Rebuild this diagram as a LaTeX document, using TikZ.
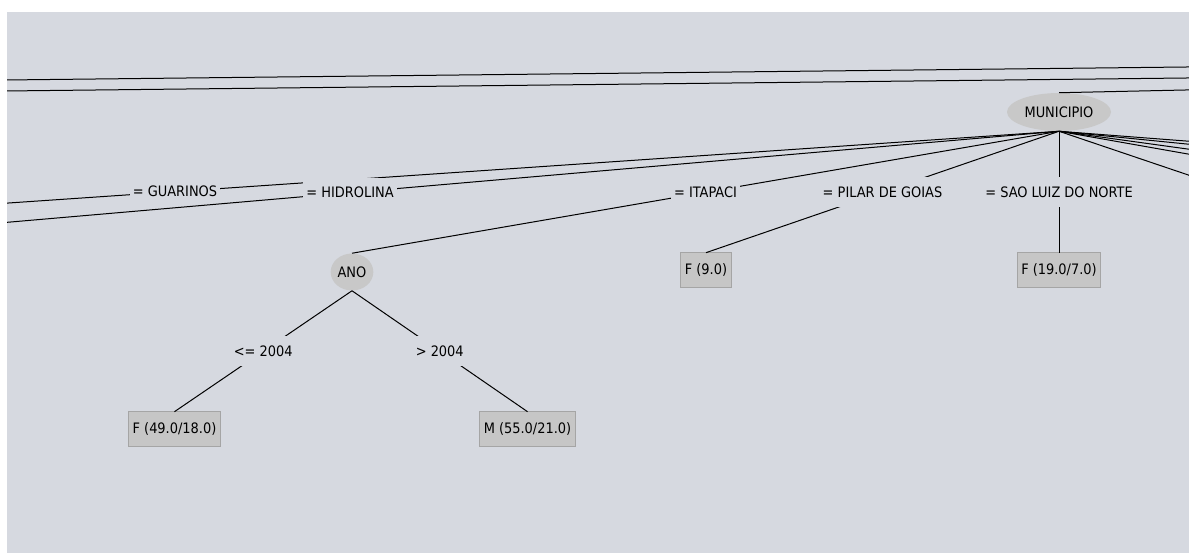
\documentclass[tikz,border=0pt]{standalone}
\usepackage{fontspec}
\setmainfont{DejaVu Sans Condensed}
\usetikzlibrary{shapes.geometric}

\definecolor{panelbg}{RGB}{214,217,224}
\definecolor{nodegray}{RGB}{200,200,200}
\definecolor{boxgray}{RGB}{198,198,198}
\definecolor{boxrim}{RGB}{165,165,165}

\tikzset{
  treefont/.style={font=\fontsize{10.8}{12}\selectfont},
  splitnode/.style={ellipse, fill=nodegray, inner sep=0pt, treefont},
  leafbox/.style={rectangle, fill=boxgray, draw=boxrim, line width=0.75pt,
    inner xsep=3pt, minimum height=26pt, outer sep=0pt, treefont},
  edge/.style={draw=black, line width=0.75pt},
  lbl/.style={fill=panelbg, inner xsep=2.5pt, inner ysep=0pt,
    minimum height=22.5pt, treefont}
}

\begin{document}
\begin{tikzpicture}[x=0.75pt, y=-0.75pt]
  % Draw frame
  \useasboundingbox (0,0) rectangle (1189,553);
  \fill[white] (0,0) rectangle (1189,553);
  \fill[panelbg] (7,12) rectangle (1189,553);
  \clip (7,12) rectangle (1189,553);

  % Draw edges coming from outside the view
  \coordinate (upA1) at (-50,80.6);
  \coordinate (upA2) at (1250,66.3);
  \coordinate (upB1) at (-50,91.6);
  \coordinate (upB2) at (1250,77.3);
  \draw[edge] (upA1) -- (upA2);
  \draw[edge] (upB1) -- (upB2);

  % Draw nodes
  \node[splitnode, minimum width=78pt, minimum height=28.5pt] (muni) at (1059,112) {MUNICIPIO};
  \node[splitnode, minimum width=32pt, minimum height=27.75pt] (ano) at (352,272) {ANO};
  \node[leafbox] (pilarleaf) at (706,270) {F (9.0)};
  \node[leafbox] (saoleaf) at (1059,270) {F (19.0/7.0)};
  \node[leafbox] (lowleaf) at (174.5,429) {F (49.0/18.0)};
  \node[leafbox] (highleaf) at (527.5,429) {M (55.0/21.0)};

  % Draw edge to parent of MUNICIPIO
  \coordinate (muniparent) at (1250,88.6);
  \draw[edge] (muni.north) -- (muniparent);

  % Draw branches of MUNICIPIO
  \coordinate (guarleaf) at (-709,252);
  \coordinate (hidrleaf) at (-359,254);
  \draw[edge] (muni.south) -- node[lbl] {= GUARINOS} (guarleaf);
  \draw[edge] (muni.south) -- node[lbl] {= HIDROLINA} (hidrleaf);
  \draw[edge] (muni.south) -- node[lbl] {= ITAPACI} (ano.north);
  \draw[edge] (muni.south) -- node[lbl] {= PILAR DE GOIAS} (pilarleaf.north);
  \draw[edge] (muni.south) -- node[lbl] {= SAO LUIZ DO NORTE} (saoleaf.north);
  \foreach \cx [count=\i] in {2632,2269,1933,1743,1416} {
    \coordinate (rightleaf\i) at (\cx,252);
    \draw[edge] (muni.south) -- (rightleaf\i);
  }

  % Draw branches of ANO
  \draw[edge] (ano.south) -- node[lbl] {<= 2004} (lowleaf.north);
  \draw[edge] (ano.south) -- node[lbl] {> 2004} (highleaf.north);
\end{tikzpicture}
\end{document}
